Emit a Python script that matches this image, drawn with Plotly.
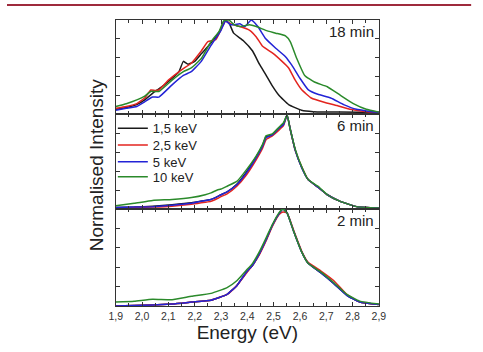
import plotly.graph_objects as go
from plotly.subplots import make_subplots

# ---------------- data ----------------
series_names = ["1,5 keV", "2,5 keV", "5 keV", "10 keV"]
series_colors = ["#1a1a1a", "#e3241f", "#2323d6", "#2b8a2b"]
panel_labels = ["18 min", "6 min", "2 min"]
x_tick_vals = [1.9, 2.0, 2.1, 2.2, 2.3, 2.4, 2.5, 2.6, 2.7, 2.8, 2.9]
x_tick_labels = ["1,9", "2,0", "2,1", "2,2", "2,3", "2,4", "2,5", "2,6", "2,7", "2,8", "2,9"]

# 18 min
e18_k15 = [1.90, 1.94, 1.98, 2.01, 2.04, 2.06, 2.08, 2.11, 2.14, 2.157, 2.175, 2.20, 2.225, 2.26, 2.29,
           2.317, 2.33, 2.348, 2.385, 2.42, 2.446, 2.47, 2.495, 2.52, 2.557, 2.606, 2.65, 2.75, 2.90]
i18_k15 = [0.05, 0.07, 0.10, 0.15, 0.22, 0.26, 0.30, 0.37, 0.45, 0.56, 0.53, 0.56, 0.64, 0.75, 0.86,
           0.99, 0.97, 0.86, 0.78, 0.67, 0.53, 0.42, 0.30, 0.20, 0.10, 0.04, 0.025, 0.02, 0.015]
e18_k25 = [1.90, 1.94, 1.98, 2.01, 2.033, 2.05, 2.064, 2.10, 2.15, 2.187, 2.225, 2.25, 2.28, 2.305, 2.317,
           2.335, 2.372, 2.409, 2.434, 2.458, 2.495, 2.532, 2.557, 2.582, 2.606, 2.643, 2.692, 2.741,
           2.79, 2.852, 2.90]
i18_k25 = [0.06, 0.08, 0.11, 0.17, 0.255, 0.25, 0.255, 0.36, 0.47, 0.54, 0.67, 0.77, 0.79, 0.93, 0.99,
           0.96, 0.93, 0.89, 0.82, 0.72, 0.65, 0.56, 0.49, 0.36, 0.26, 0.17, 0.125, 0.09,
           0.05, 0.025, 0.02]
e18_k5 = [1.90, 1.94, 1.98, 2.01, 2.04, 2.064, 2.114, 2.157, 2.187, 2.225, 2.262, 2.30, 2.317, 2.336,
          2.348, 2.372, 2.39, 2.415, 2.44, 2.47, 2.508, 2.545, 2.569, 2.60, 2.631, 2.668, 2.717, 2.766,
          2.815, 2.889, 2.90]
i18_k5 = [0.04, 0.06, 0.08, 0.13, 0.18, 0.18, 0.31, 0.41, 0.45, 0.56, 0.73, 0.89, 0.99, 0.95,
          0.95, 0.96, 0.93, 1.0, 0.93, 0.80, 0.70, 0.61, 0.52, 0.38, 0.26, 0.21, 0.17, 0.10,
          0.05, 0.02, 0.02]
e18_k10 = [1.90, 1.94, 1.98, 2.01, 2.033, 2.064, 2.114, 2.157, 2.187, 2.225, 2.262, 2.293, 2.31, 2.33,
           2.35, 2.372, 2.409, 2.434, 2.47, 2.508, 2.545, 2.563, 2.588, 2.618, 2.655, 2.704, 2.753,
           2.803, 2.852, 2.90]
i18_k10 = [0.08, 0.11, 0.15, 0.19, 0.24, 0.24, 0.36, 0.45, 0.49, 0.59, 0.77, 0.88, 0.99, 1.0,
           0.95, 0.93, 0.95, 0.93, 0.89, 0.86, 0.83, 0.77, 0.59, 0.41, 0.34, 0.29, 0.20,
           0.11, 0.05, 0.02]

# 6 min
e6 = [1.90, 1.97, 2.04, 2.114, 2.188, 2.24, 2.262, 2.286, 2.30, 2.323, 2.36, 2.397, 2.434, 2.458,
      2.471, 2.495, 2.52, 2.538, 2.551, 2.563, 2.582, 2.606, 2.631, 2.668, 2.704, 2.753, 2.815, 2.90]
i6_k15 = [0.015, 0.02, 0.03, 0.045, 0.065, 0.09, 0.10, 0.13, 0.15, 0.18, 0.26, 0.39, 0.55, 0.67,
          0.76, 0.78, 0.85, 0.90, 0.99, 0.84, 0.62, 0.44, 0.31, 0.23, 0.15, 0.08, 0.025, 0.01]
i6_k25 = [0.01, 0.015, 0.02, 0.03, 0.05, 0.07, 0.08, 0.11, 0.13, 0.16, 0.24, 0.36, 0.52, 0.64,
          0.73, 0.77, 0.83, 0.88, 0.99, 0.84, 0.62, 0.45, 0.31, 0.23, 0.15, 0.08, 0.025, 0.01]
i6_k5 = [0.015, 0.02, 0.025, 0.04, 0.06, 0.09, 0.10, 0.13, 0.15, 0.18, 0.255, 0.38, 0.54, 0.66,
         0.75, 0.78, 0.85, 0.89, 0.99, 0.84, 0.62, 0.44, 0.31, 0.23, 0.15, 0.08, 0.025, 0.01]
i6_k10 = [0.035, 0.06, 0.09, 0.10, 0.12, 0.15, 0.17, 0.20, 0.21, 0.24, 0.29, 0.415, 0.56, 0.68,
          0.77, 0.79, 0.86, 0.91, 0.99, 0.84, 0.63, 0.45, 0.31, 0.24, 0.15, 0.08, 0.025, 0.01]

# 2 min
e2 = [1.90, 1.97, 2.04, 2.114, 2.188, 2.262, 2.323, 2.36, 2.397, 2.42, 2.446, 2.471, 2.495, 2.52,
      2.535, 2.551, 2.576, 2.606, 2.631, 2.68, 2.729, 2.778, 2.827, 2.90]
i2_k15 = [0.0, 0.005, 0.01, 0.02, 0.04, 0.06, 0.12, 0.21, 0.35, 0.42, 0.54, 0.68, 0.83, 0.95,
          1.0, 0.96, 0.77, 0.56, 0.44, 0.34, 0.23, 0.11, 0.04, 0.015]
i2_k25 = [0.0, 0.005, 0.01, 0.02, 0.04, 0.06, 0.12, 0.21, 0.34, 0.42, 0.53, 0.67, 0.82, 0.94,
          0.97, 0.96, 0.78, 0.57, 0.45, 0.36, 0.26, 0.12, 0.04, 0.015]
i2_k5 = [0.0, 0.005, 0.01, 0.02, 0.04, 0.06, 0.12, 0.21, 0.35, 0.42, 0.54, 0.68, 0.83, 0.95,
         1.0, 0.96, 0.77, 0.56, 0.44, 0.34, 0.23, 0.11, 0.04, 0.015]
i2_k10 = [0.04, 0.05, 0.07, 0.065, 0.10, 0.13, 0.19, 0.26, 0.37, 0.44, 0.56, 0.70, 0.84, 0.96,
          1.0, 0.96, 0.77, 0.56, 0.44, 0.35, 0.24, 0.12, 0.05, 0.02]

panels = [
    [(e18_k15, i18_k15), (e18_k25, i18_k25), (e18_k5, i18_k5), (e18_k10, i18_k10)],
    [(e6, i6_k15), (e6, i6_k25), (e6, i6_k5), (e6, i6_k10)],
    [(e2, i2_k15), (e2, i2_k25), (e2, i2_k5), (e2, i2_k10)],
]

# ---------------- figure ----------------
W, H = 483, 352
FONT = "Liberation Sans, Arial"
fig = make_subplots(rows=3, cols=1, shared_xaxes=True, vertical_spacing=0)

legend_ids = ["legend", "legend2", "legend3", "legend4"]
for r, panel in enumerate(panels, start=1):
    for k, (xs, ys) in enumerate(panel):
        fig.add_trace(go.Scatter(
            x=xs, y=ys, mode="lines", name=series_names[k],
            line=dict(color=series_colors[k], width=1.5, shape="spline", smoothing=0.4),
            legend=legend_ids[k], showlegend=(r == 2)), row=r, col=1)

x0, x1 = 112 / W, 383 / W
bounds = [(20, 114), (114, 209), (209, 306)]
axis_col = "#333333"
for r, (top, bot) in enumerate(bounds, start=1):
    sfx = "" if r == 1 else str(r)
    fig.layout["yaxis" + sfx].update(
        domain=[1 - bot / H, 1 - top / H], range=[0, 1.0], showticklabels=False,
        showgrid=False, zeroline=False, showline=True, linecolor=axis_col, linewidth=1,
        mirror="ticks", ticks="inside", ticklen=4, tickcolor=axis_col, dtick=0.2, tick0=0)
    fig.layout["xaxis" + sfx].update(
        domain=[x0, x1], range=[1.9, 2.9], showgrid=False, zeroline=False,
        showline=True, linecolor=axis_col, linewidth=1, mirror="ticks",
        ticks="inside", ticklen=4, tickcolor=axis_col,
        tickmode="array", tickvals=x_tick_vals, ticktext=x_tick_labels,
        showticklabels=(r == 3),
        tickfont=dict(family=FONT, size=10.5, color="#333333"),
        minor=dict(ticks="inside", ticklen=3, tickcolor=axis_col, dtick=0.05, tick0=1.9))
    fig.add_annotation(text=panel_labels[r - 1], xref="paper", yref="paper",
                       x=380 / W, y=1 - (top + 11) / H, xanchor="right", yanchor="middle",
                       showarrow=False, font=dict(family=FONT, size=15, color="#222222"))

fig.layout.xaxis3.title = dict(text="Energy (eV)", standoff=4,
                               font=dict(family=FONT, size=19, color="#222222"))

fig.add_annotation(text="Normalised Intensity", xref="paper", yref="paper",
                   x=92 / W, y=1 - 165 / H, textangle=-90, showarrow=False,
                   xanchor="center", yanchor="middle",
                   font=dict(family=FONT, size=19, color="#222222"))

# decorative rule at the top
fig.add_shape(type="line", xref="paper", yref="paper", x0=0, x1=478 / W,
              y0=1 - 5 / H, y1=1 - 5 / H, line=dict(color="#9e2a3c", width=2))

legend_rows = [128.3, 145, 161.7, 176.7]
layout_legends = {}
for lid, yc in zip(legend_ids, legend_rows):
    layout_legends[lid] = dict(x=109 / W, y=1 - (yc - 15) / H, xanchor="left", yanchor="top",
                               bgcolor="rgba(0,0,0,0)", borderwidth=0,
                               font=dict(family=FONT, size=13, color="#222222"))

fig.update_layout(
    width=W, height=H, autosize=False,
    margin=dict(l=0, r=0, t=0, b=0),
    paper_bgcolor="white", plot_bgcolor="white",
    showlegend=True,
    **layout_legends,
)

fig.write_html("out.html")
